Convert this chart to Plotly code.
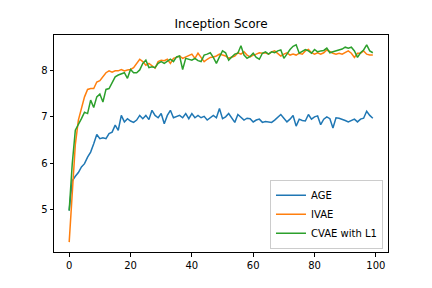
import plotly.graph_objects as go

epochs = list(range(100))

age = [4.98, 5.62, 5.72, 5.8, 5.92, 5.99, 6.13, 6.24, 6.42, 6.62,
       6.53, 6.55, 6.53, 6.64, 6.67, 6.82, 6.71, 7.03, 6.89, 6.96,
       6.91, 6.88, 6.93, 7.03, 6.96, 7.03, 6.94, 7.14, 7.03, 6.98,
       7.07, 6.85, 7.03, 7.14, 6.98, 7.01, 7.03, 6.98, 7.07, 6.96,
       7.07, 6.98, 7.03, 6.98, 7.01, 6.93, 6.98, 7.03, 6.98, 7.18,
       6.96, 7.0, 7.07, 6.98, 6.88, 7.05, 6.98, 6.93, 6.97, 6.96,
       6.89, 6.93, 6.95, 6.88, 6.9, 6.89, 6.88, 6.93, 7.0, 7.05,
       6.97, 6.89, 6.95, 7.03, 6.8, 6.95, 6.92, 6.91, 7.05, 6.95,
       7.0, 7.02, 6.83, 6.95, 7.0, 6.96, 6.76, 6.98, 6.97, 6.95,
       6.92, 6.89, 6.92, 6.95, 6.89, 6.95, 6.97, 7.12, 7.03, 6.97]

ivae = [4.30, 5.45, 6.40, 6.93, 7.18, 7.43, 7.59, 7.61, 7.61, 7.75,
        7.78, 7.86, 7.95, 7.99, 7.96, 7.99, 7.99, 8.02, 7.99, 8.01,
        8.02, 8.06, 8.15, 8.24, 8.19, 8.11, 8.15, 8.09, 8.05, 8.19,
        8.22, 8.21, 8.24, 8.15, 8.26, 8.28, 8.31, 8.26, 8.29, 8.31,
        8.35, 8.26, 8.37, 8.28, 8.19, 8.24, 8.28, 8.29, 8.31, 8.35,
        8.33, 8.31, 8.26, 8.28, 8.31, 8.38, 8.35, 8.40, 8.33, 8.29,
        8.33, 8.35, 8.38, 8.37, 8.38, 8.35, 8.40, 8.42, 8.37, 8.31,
        8.35, 8.38, 8.33, 8.35, 8.33, 8.37, 8.35, 8.42, 8.45, 8.38,
        8.35, 8.38, 8.35, 8.38, 8.44, 8.40, 8.37, 8.35, 8.37, 8.35,
        8.38, 8.42, 8.37, 8.28, 8.37, 8.37, 8.42, 8.35, 8.33, 8.33]

cvae = [4.98, 5.99, 6.71, 6.82, 6.96, 7.10, 7.07, 7.36, 7.20, 7.43,
        7.49, 7.32, 7.59, 7.61, 7.75, 7.86, 7.90, 7.93, 7.95, 7.83,
        8.02, 7.95, 7.95, 8.01, 8.15, 8.22, 8.06, 8.08, 8.06, 8.15,
        8.19, 8.15, 8.19, 8.24, 8.19, 8.29, 8.31, 8.02, 8.26, 8.24,
        8.22, 8.26, 8.21, 8.19, 8.33, 8.35, 8.38, 8.28, 8.15, 8.29,
        8.42, 8.38, 8.22, 8.29, 8.35, 8.37, 8.53, 8.33, 8.26, 8.30,
        8.37, 8.28, 8.24, 8.37, 8.40, 8.35, 8.40, 8.38, 8.42, 8.44,
        8.26, 8.35, 8.45, 8.52, 8.55, 8.37, 8.42, 8.45, 8.42, 8.37,
        8.45, 8.40, 8.42, 8.43, 8.48, 8.38, 8.40, 8.42, 8.44, 8.46,
        8.50, 8.48, 8.50, 8.42, 8.28, 8.38, 8.44, 8.55, 8.42, 8.38]

series = [("AGE", age, "#1f77b4"), ("IVAE", ivae, "#ff7f0e"), ("CVAE with L1", cvae, "#2ca02c")]

fig = go.Figure()
for name, vals, color in series:
    fig.add_trace(go.Scatter(x=epochs, y=vals, mode="lines", name=name,
                             line=dict(color=color, width=1.5)))

axis_common = dict(showline=True, linecolor="black", linewidth=1, mirror=True,
                   ticks="outside", ticklen=3.5, tickwidth=1, tickcolor="black",
                   showgrid=False, zeroline=False,
                   tickfont=dict(family="DejaVu Sans", size=10, color="black"))

# page body has an 8px margin, so the figure is drawn 8px smaller and offset
fig.update_layout(
    width=424, height=280,
    margin=dict(l=46, r=44, t=27, b=36),
    paper_bgcolor="white", plot_bgcolor="white",
    font=dict(family="DejaVu Sans", size=10, color="black"),
    title=dict(text="Inception Score", x=0.5, xref="paper", xanchor="center",
               y=1 - 16 / 280, yanchor="middle",
               font=dict(family="DejaVu Sans", size=12, color="black")),
    xaxis=dict(range=[-4.95, 103.95], tickvals=[0, 20, 40, 60, 80, 100], **axis_common),
    yaxis=dict(range=[4.0875, 8.7625], tickvals=[5, 6, 7, 8], **axis_common),
    legend=dict(x=0.985, y=0.015, xanchor="right", yanchor="bottom",
                bgcolor="rgba(255,255,255,0.8)", bordercolor="#cccccc", borderwidth=1,
                font=dict(family="DejaVu Sans", size=10), tracegroupgap=0,
                itemwidth=30),
    showlegend=True,
)

fig.write_html("out.html")
